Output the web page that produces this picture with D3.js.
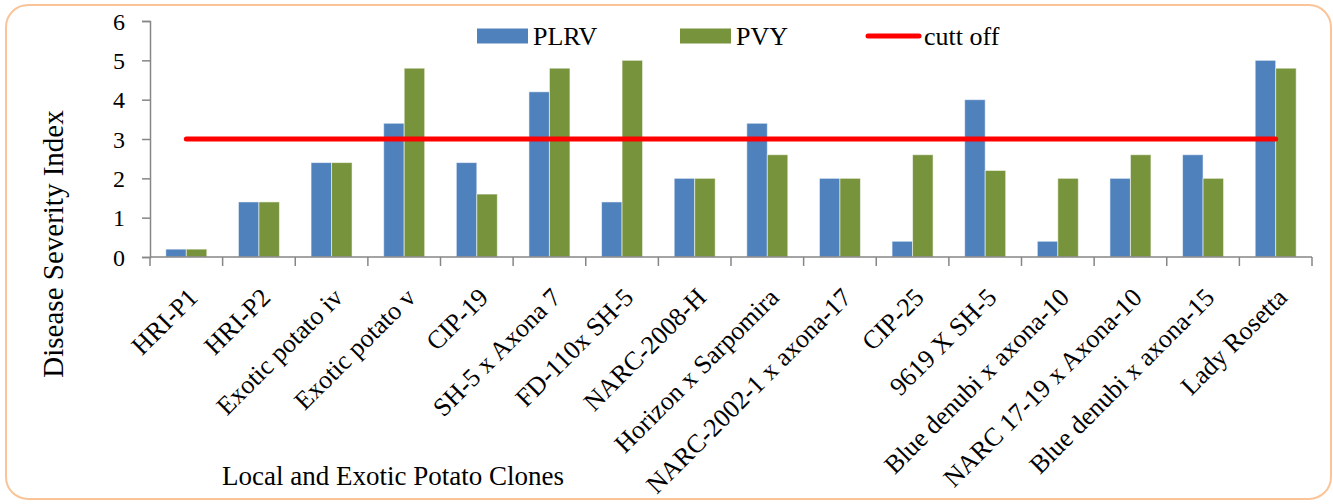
<!DOCTYPE html>
<html>
<head>
<meta charset="utf-8">
<script src="https://cdn.jsdelivr.net/npm/d3@7"></script>
<style>
  body { margin: 0; background: #fff; }
  svg text { font-family: "Liberation Serif", "Times New Roman", serif; fill: #000; }
</style>
</head>
<body>
<div id="chart"></div>
<script>
// 数据
const clones = [
  "HRI-P1", "HRI-P2", "Exotic potato iv", "Exotic potato v", "CIP-19",
  "SH-5 x Axona 7", "FD-110x SH-5", "NARC-2008-H", "Horizon x Sarpomira",
  "NARC-2002-1 x axona-17", "CIP-25", "9619 X SH-5", "Blue denubi x axona-10",
  "NARC 17-19 x Axona-10", "Blue denubi x axona-15", "Lady Rosetta"
];
const plrv = [0.2, 1.4, 2.4, 3.4, 2.4, 4.2, 1.4, 2.0, 3.4, 2.0, 0.4, 4.0, 0.4, 2.0, 2.6, 5.0];
const pvy  = [0.2, 1.4, 2.4, 4.8, 1.6, 4.8, 5.0, 2.0, 2.6, 2.0, 2.6, 2.2, 2.0, 2.6, 2.0, 4.8];
const cutoff = [3, 3, 3, 3, 3, 3, 3, 3, 3, 3, 3, 3, 3, 3, 3, 3];
const seriesNames = ["PLRV", "PVY"];
const yTicks = [0, 1, 2, 3, 4, 5, 6];

const W = 1333, H = 504;
const plot = { left: 150, right: 1312, top: 21, bottom: 257 };
const serif = '"Liberation Serif", "Times New Roman", serif';

const svg = d3.select("#chart").append("svg")
  .attr("width", W)
  .attr("height", H);

// 外框
svg.append("rect")
  .attr("x", 6).attr("y", 5)
  .attr("width", 1325).attr("height", 494)
  .attr("rx", 22).attr("ry", 22)
  .attr("fill", "#fff")
  .attr("stroke", "#fac498")
  .attr("stroke-width", 2);

// 比例尺
const x0 = d3.scaleBand()
  .domain(clones)
  .range([plot.left, plot.right])
  .paddingInner(0.4355)
  .paddingOuter(0.21775);

const x1 = d3.scaleBand()
  .domain(seriesNames)
  .range([0, x0.bandwidth()]);

const y = d3.scaleLinear()
  .domain([0, 6])
  .range([plot.bottom, plot.top]);

const color = d3.scaleOrdinal()
  .domain(seriesNames)
  .range(["#4f81bd", "#77933c"]);

const axisColor = "#868686";

// Y 轴
const yAxis = svg.append("g")
  .attr("transform", `translate(${plot.left},0)`)
  .call(d3.axisLeft(y).tickValues(yTicks).tickSize(8).tickPadding(17).tickFormat(d3.format("d")));
yAxis.attr("font-family", serif).attr("font-size", 24);
yAxis.select(".domain").attr("stroke", axisColor).attr("stroke-width", 1.5);
yAxis.selectAll(".tick line").attr("stroke", axisColor).attr("stroke-width", 1.5);
yAxis.selectAll(".tick text")
  .style("font-family", serif)
  .style("font-size", "24px")
  .attr("dy", "0.34em");

// 柱子
const rows = clones.map((c, i) => ({ clone: c, values: [plrv[i], pvy[i]] }));
const groups = svg.append("g").selectAll("g")
  .data(rows)
  .join("g")
  .attr("transform", d => `translate(${x0(d.clone)},0)`);

groups.selectAll("rect")
  .data(d => seriesNames.map((s, k) => ({ s, v: d.values[k] })))
  .join("rect")
  .attr("x", d => x1(d.s))
  .attr("y", d => y(d.v))
  .attr("width", x1.bandwidth())
  .attr("height", d => y(0) - y(d.v))
  .attr("fill", d => color(d.s))
  .attr("stroke", "#ffffff")
  .attr("stroke-opacity", 0.55)
  .attr("stroke-width", 1);

// X 轴
const step = x0.step();
const xAxis = svg.append("g");
xAxis.append("line")
  .attr("x1", plot.left).attr("x2", plot.right)
  .attr("y1", y(0)).attr("y2", y(0))
  .attr("stroke", axisColor).attr("stroke-width", 1.5);
xAxis.selectAll(".xtick")
  .data(d3.range(clones.length + 1))
  .join("line")
  .attr("class", "xtick")
  .attr("x1", i => plot.left + i * step)
  .attr("x2", i => plot.left + i * step)
  .attr("y1", y(0)).attr("y2", y(0) + 9)
  .attr("stroke", axisColor).attr("stroke-width", 1.5);

xAxis.selectAll(".xlabel")
  .data(clones)
  .join("text")
  .attr("class", "xlabel")
  .attr("text-anchor", "end")
  .attr("transform", d => `translate(${x0(d) + x0.bandwidth() / 2 + 13},${y(0) + 42}) rotate(-45)`)
  .style("font-size", "26px")
  .text(d => d);

// cutt off 线
const line = d3.line()
  .x((d, i) => x0(clones[i]) + x0.bandwidth() / 2)
  .y(d => y(d));
svg.append("path")
  .datum(cutoff)
  .attr("d", line)
  .attr("fill", "none")
  .attr("stroke", "#ff0000")
  .attr("stroke-width", 5)
  .attr("stroke-linecap", "round");

// 轴标题
svg.append("text")
  .attr("transform", `translate(63,244) rotate(-90)`)
  .attr("text-anchor", "middle")
  .style("font-size", "29px")
  .text("Disease Severity Index");

svg.append("text")
  .attr("x", 393)
  .attr("y", 485)
  .attr("text-anchor", "middle")
  .style("font-size", "27px")
  .text("Local and Exotic Potato Clones");

// 图例
const legendItems = [
  { name: "PLRV", type: "rect", x: 477 },
  { name: "PVY", type: "rect", x: 680 },
  { name: "cutt off", type: "line", x: 866 }
];
const legend = svg.append("g");
legendItems.forEach(item => {
  const g = legend.append("g").attr("transform", `translate(${item.x},36)`);
  if (item.type === "rect") {
    g.append("rect")
      .attr("x", 0).attr("y", -7.5)
      .attr("width", 51).attr("height", 15)
      .attr("fill", color(item.name));
  } else {
    g.append("line")
      .attr("x1", 2).attr("x2", 53)
      .attr("y1", 0).attr("y2", 0)
      .attr("stroke", "#ff0000")
      .attr("stroke-width", 5)
      .attr("stroke-linecap", "round");
  }
  g.append("text")
    .attr("x", item.type === "rect" ? 56 : 58)
    .attr("y", 0)
    .attr("dy", "0.35em")
    .style("font-size", "26px")
    .text(item.name);
});
</script>
</body>
</html>
